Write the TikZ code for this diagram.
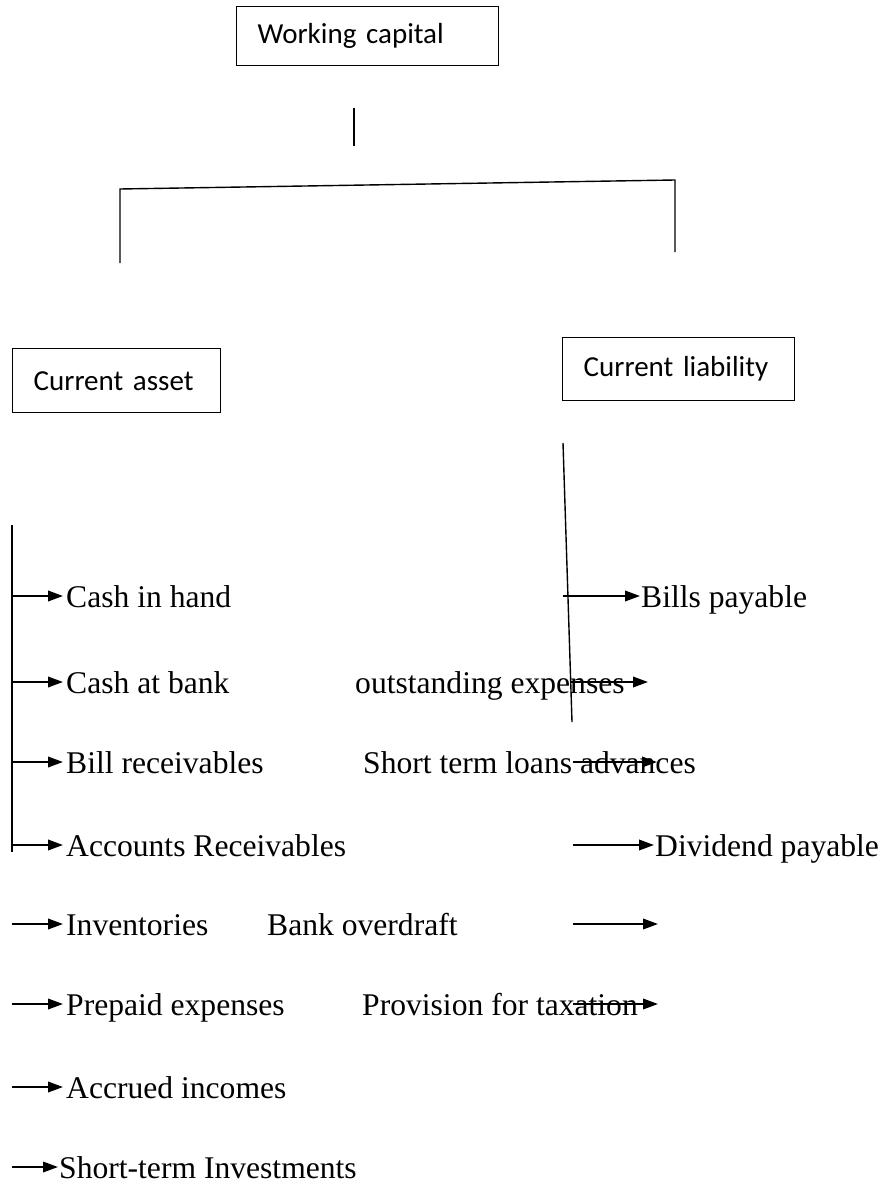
\documentclass[tikz,border=0pt]{standalone}
\usepackage{fontspec}
\setmainfont{Liberation Serif}
\newfontfamily\boxfont{Carlito}
\usetikzlibrary{arrows.meta}

\tikzset{
  boxnode/.style={draw, line width=1.4pt, rectangle, inner ysep=0pt, inner xsep=21pt,
    align=left, font=\boxfont\fontsize{29}{34}\selectfont, anchor=north west},
  item/.style={inner sep=0pt, anchor=west, text height=22pt, text depth=0pt,
    font=\fontsize{31.6}{38}\selectfont},
  tree/.style={line width=1.4pt},
  arr/.style={line width=2pt, -{Triangle[length=15pt,width=10.5pt]}}
}

\begin{document}
\begin{tikzpicture}[x=1pt,y=-1pt]
\useasboundingbox (0,0) rectangle (885,1185);

% boxes
\node[boxnode, text width=220pt, minimum height=59pt] (wc) at (236,6) {Working capital};
\node[boxnode, text width=166pt, minimum height=64pt] (ca) at (12,348) {Current asset};
\node[boxnode, text width=190pt, minimum height=63pt] (cl) at (562,337) {Current liability};

% bracket under the top box
\coordinate (m1) at (354,108);
\coordinate (m2) at (354,146);
\draw[tree] (m1) -- (m2);
\coordinate (bl) at (120,263);
\coordinate (blc) at (120,189);
\coordinate (brc) at (675,180);
\coordinate (br) at (675,252);
\draw[tree] (bl) -- (blc) -- (brc) -- (br);

% left spine
\coordinate (ls1) at (12,525);
\coordinate (ls2) at (12,852);
\draw[tree] (ls1) -- (ls2);

% current asset items
\node[item] (a1) at (66,596) {Cash in hand};
\node[item] (a2) at (66,682) {Cash at bank};
\node[item] (a3) at (66,762) {Bill receivables};
\node[item] (a4) at (66,845) {Accounts Receivables};
\node[item] (a5) at (66,924) {Inventories};
\node[item] (a6) at (66,1004) {Prepaid expenses};
\node[item] (a7) at (66,1087) {Accrued incomes};
\node[item] (a8) at (59,1167) {Short-term Investments};

\foreach \n/\y in {1/596,2/682,3/762,4/845,5/924,6/1004,7/1087,8/1167}
  \coordinate (as\n) at (12,\y);
\foreach \n in {1,...,7}
  \draw[arr] (as\n) -- ([xshift=-3pt]a\n.west);
\draw[arr] (as8) -- ([xshift=-1pt]a8.west);

% right spine
\coordinate (rs1) at (563,443);
\coordinate (rs2) at (572,722);
\draw[tree] (rs1) -- (rs2);

% current liability items
\node[item] (l1) at (641,596) {Bills payable};
\node[item] (l2) at (355,682) {outstanding expenses};
\node[item] (l3) at (363,762) {Short term loans advances};
\node[item] (l4) at (655,845) {Dividend payable};
\node[item] (l5) at (267,924) {Bank overdraft};
\node[item] (l6) at (362,1004) {Provision for taxation};

\coordinate (r1s) at (563,596);
\draw[arr] (r1s) -- ([xshift=-1pt]l1.west);
\coordinate (r2s) at (570,682);
\coordinate (r2e) at (648,682);
\draw[arr] (r2s) -- (r2e);
\coordinate (r3s) at (573,762);
\coordinate (r3e) at (657,762);
\draw[arr] (r3s) -- (r3e);
\coordinate (r4s) at (573,845);
\draw[arr] (r4s) -- ([xshift=-1pt]l4.west);
\coordinate (r5s) at (573,924);
\coordinate (r5e) at (658,924);
\draw[arr] (r5s) -- (r5e);
\coordinate (r6s) at (573,1004);
\coordinate (r6e) at (658,1004);
\draw[arr] (r6s) -- (r6e);
\end{tikzpicture}
\end{document}
